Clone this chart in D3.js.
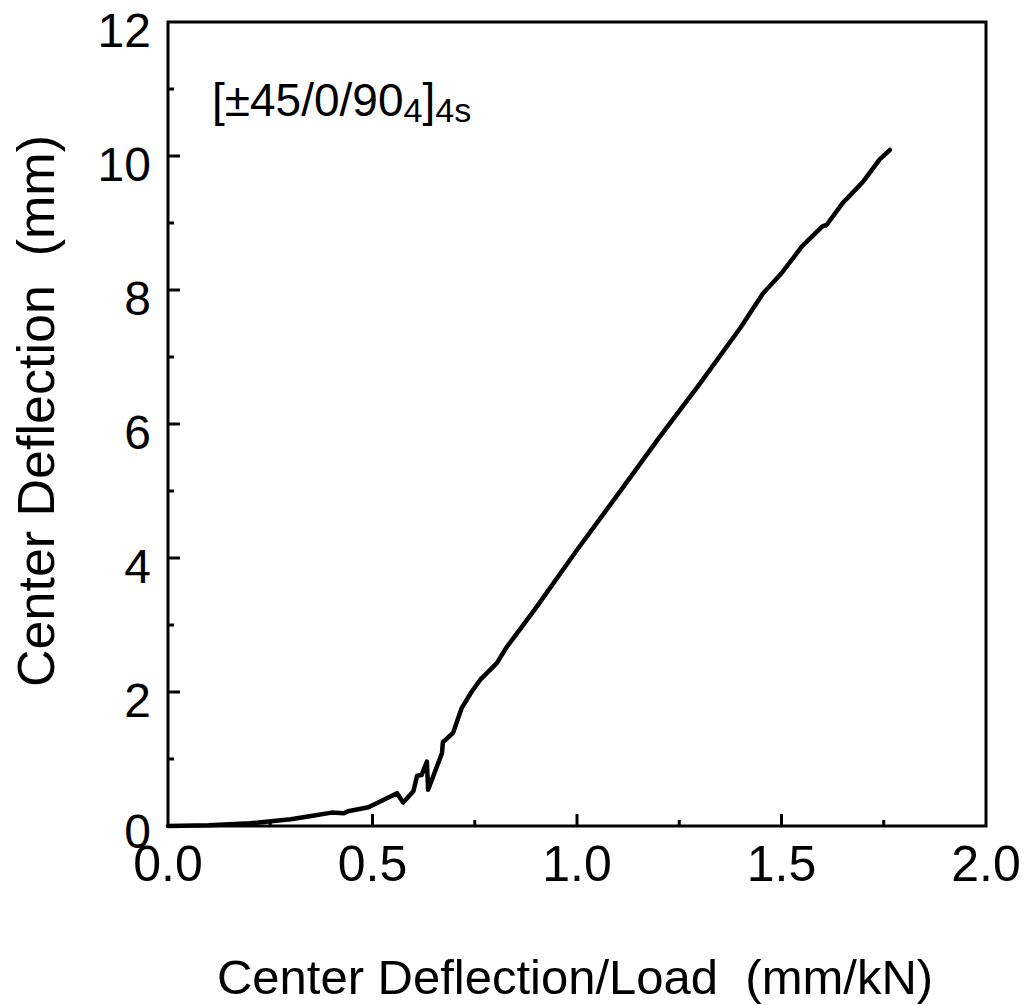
<!DOCTYPE html>
<html>
<head>
<meta charset="utf-8">
<script src="https://cdn.jsdelivr.net/npm/d3@7"></script>
<style>
  body { margin: 0; background: #fff; }
  text { font-family: "Liberation Sans", Arial, sans-serif; fill: #000; white-space: pre; }
</style>
</head>
<body>
<div id="chart"></div>
<script>
//////////////////////////////////////////////////////////////////////////////
// Data

var deflLoad = [0.00, 0.10, 0.20, 0.30, 0.35, 0.40, 0.43, 0.44, 0.49, 0.52,
                0.56, 0.575, 0.60, 0.609, 0.62, 0.633, 0.636, 0.67, 0.672, 0.697,
                0.706, 0.718, 0.742, 0.763, 0.804, 0.828, 0.877, 0.90, 1.00, 1.10,
                1.20, 1.30, 1.40, 1.455, 1.50, 1.55, 1.60, 1.61, 1.65, 1.70,
                1.74, 1.765];
var deflection = [0.00, 0.01, 0.04, 0.10, 0.15, 0.20, 0.19, 0.22, 0.28, 0.37,
                  0.49, 0.35, 0.52, 0.75, 0.76, 0.96, 0.54, 1.09, 1.25, 1.39,
                  1.55, 1.76, 2.00, 2.18, 2.43, 2.67, 3.07, 3.26, 4.12, 4.95,
                  5.79, 6.60, 7.44, 7.95, 8.25, 8.65, 8.95, 8.97, 9.30, 9.62,
                  9.95, 10.09];

var xTicks = [0, 0.5, 1.0, 1.5, 2.0];
var xMinor = [0.25, 0.75, 1.25, 1.75];
var yTicks = [0, 2, 4, 6, 8, 10, 12];
var yMinor = [1, 3, 5, 7, 9, 11];

var xTitle = "Center Deflection/Load  (mm/kN)";
var yTitle = "Center Deflection  (mm)";

//////////////////////////////////////////////////////////////////////////////
// Layout

var width = 1026, height = 1005;
var plotL = 168, plotR = 986, plotT = 22, plotB = 826;

var xScale = d3.scaleLinear().domain([0, 2]).range([plotL, plotR]);
var yScale = d3.scaleLinear().domain([0, 12]).range([plotB, plotT]);

var svg = d3.select("#chart").append("svg")
    .attr("width", width)
    .attr("height", height);

// frame
svg.append("rect")
    .attr("x", plotL).attr("y", plotT)
    .attr("width", plotR - plotL).attr("height", plotB - plotT)
    .attr("fill", "none")
    .attr("stroke", "#000")
    .attr("stroke-width", 3);

// ticks pointing inward
function addTicks(vals, len, horizontal) {
    svg.append("g").selectAll("line")
        .data(vals).enter().append("line")
        .attr("x1", function(d) { return horizontal ? xScale(d) : plotL; })
        .attr("x2", function(d) { return horizontal ? xScale(d) : plotL + len; })
        .attr("y1", function(d) { return horizontal ? plotB : yScale(d); })
        .attr("y2", function(d) { return horizontal ? plotB - len : yScale(d); })
        .attr("stroke", "#000")
        .attr("stroke-width", 3);
}
addTicks(xTicks.slice(1, -1), 12, true);
addTicks(xMinor, 6, true);
addTicks(yTicks.slice(1, -1), 12, false);
addTicks(yMinor, 6, false);

// tick labels
svg.append("g").selectAll("text")
    .data(xTicks).enter().append("text")
    .attr("x", function(d) { return xScale(d); })
    .attr("y", 881)
    .attr("text-anchor", "middle")
    .style("font-size", "50px")
    .text(function(d) { return d3.format(".1f")(d); });

svg.append("g").selectAll("text")
    .data(yTicks).enter().append("text")
    .attr("x", 151)
    .attr("y", function(d) { return yScale(d) + (d === 0 ? 22 : 25); })
    .attr("text-anchor", "end")
    .style("font-size", "48px")
    .text(function(d) { return d; });

// axis titles
svg.append("text")
    .attr("x", 575)
    .attr("y", 994)
    .attr("text-anchor", "middle")
    .style("font-size", "49px")
    .text(xTitle);

svg.append("text")
    .attr("transform", "translate(54,411) rotate(-90)")
    .attr("text-anchor", "middle")
    .style("font-size", "52px")
    .text(yTitle);

// laminate label
var lab = svg.append("text")
    .attr("x", 212)
    .attr("y", 116)
    .style("font-size", "46px");
lab.append("tspan").text("[\u00b145/0/90");
lab.append("tspan").attr("dy", 6).style("font-size", "34px").text("4");
lab.append("tspan").attr("dy", -6).text("]");
lab.append("tspan").attr("dy", 6).style("font-size", "34px").text("4s");

// curve
var pts = deflLoad.map(function(x, i) { return [x, deflection[i]]; });
var line = d3.line()
    .x(function(d) { return xScale(d[0]); })
    .y(function(d) { return yScale(d[1]); });

svg.append("path")
    .datum(pts)
    .attr("d", line)
    .attr("fill", "none")
    .attr("stroke", "#000")
    .attr("stroke-width", 4.5)
    .attr("stroke-linejoin", "round")
    .attr("stroke-linecap", "round");
</script>
</body>
</html>
